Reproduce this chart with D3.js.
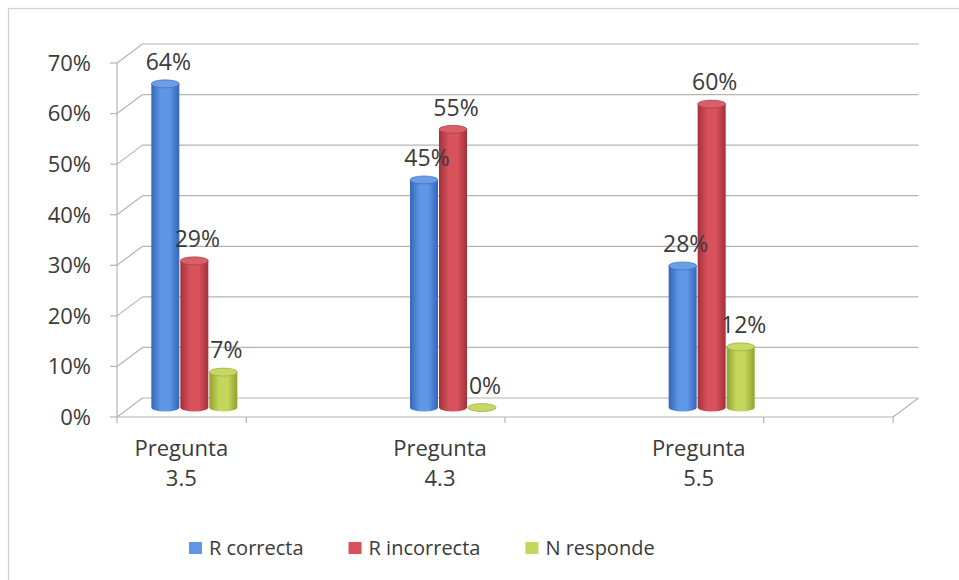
<!DOCTYPE html>
<html>
<head>
<meta charset="utf-8">
<script src="https://cdn.jsdelivr.net/npm/d3@7"></script>
<style>
  html, body { margin: 0; padding: 0; background: #fff; }
  svg { display: block; font-family: "Open Sans", "DejaVu Sans", sans-serif; }
</style>
</head>
<body>
<svg id="chart" width="959" height="580"></svg>
<script>
// Survey results per question
const categories = ["Pregunta 3.5", "Pregunta 4.3", "Pregunta 5.5"];
const seriesNames = ["R correcta", "R incorrecta", "N responde"];
const rCorrecta   = [0.64, 0.45, 0.28];
const rIncorrecta = [0.29, 0.55, 0.60];
const nResponde   = [0.07, 0.00, 0.12];
const yTicks = [0, 0.1, 0.2, 0.3, 0.4, 0.5, 0.6, 0.7];

const seriesValues = [rCorrecta, rIncorrecta, nResponde];
const palette = [
  { edge: "#3565b8", mid: "#5f97e6", top: "#6a9ee6" },
  { edge: "#a3303a", mid: "#d8525c", top: "#d9606a" },
  { edge: "#8fa22c", mid: "#c5d65c", top: "#c8d868" }
];

const svg = d3.select("#chart");
const defs = svg.append("defs");

// 3D box geometry: front plane, back plane offset by depth
const left = 117, right = 893;
const depth = { dx: 25.5, dy: -19 };
const yFront = d3.scaleLinear().domain([0, 0.7]).range([417, 63]);
const yBack = v => yFront(v) + depth.dy;
const yMid = v => yFront(v) + depth.dy / 2;

const x0 = d3.scaleBand().domain(categories).range([left, right]);
const x1 = d3.scaleBand().domain(seriesNames).range([0, 87]);
const clusterOffset = -95;

const grid = "#b4b4b4";
const textColor = "#3a3a3a";

// outer chart border (left and top edges)
svg.append("rect")
  .attr("x", 8.5).attr("y", 8.5).attr("width", 1000).attr("height", 1000)
  .attr("fill", "none").attr("stroke", "#d0d0d0").attr("stroke-width", 1.2);

// back wall gridlines and side diagonals
const g = svg.append("g");
yTicks.forEach(v => {
  g.append("line")
    .attr("x1", left + depth.dx).attr("x2", right + depth.dx)
    .attr("y1", yBack(v)).attr("y2", yBack(v))
    .attr("stroke", grid).attr("stroke-width", 1.2);
  g.append("line")
    .attr("x1", left).attr("x2", left + depth.dx)
    .attr("y1", yFront(v)).attr("y2", yBack(v))
    .attr("stroke", grid).attr("stroke-width", 1.2);
  // tick on front value axis
  g.append("line")
    .attr("x1", left - 7).attr("x2", left)
    .attr("y1", yFront(v)).attr("y2", yFront(v))
    .attr("stroke", grid).attr("stroke-width", 1.2);
});

// front value axis
g.append("line")
  .attr("x1", left).attr("x2", left)
  .attr("y1", yFront(0.7)).attr("y2", yFront(0))
  .attr("stroke", grid).attr("stroke-width", 1.2);

// floor: front edge and right diagonal
g.append("line")
  .attr("x1", left).attr("x2", right)
  .attr("y1", yFront(0)).attr("y2", yFront(0))
  .attr("stroke", grid).attr("stroke-width", 1.2);
g.append("line")
  .attr("x1", right).attr("x2", right + depth.dx)
  .attr("y1", yFront(0)).attr("y2", yBack(0))
  .attr("stroke", grid).attr("stroke-width", 1.2);

// category ticks
const tickXs = [left, right].concat(categories.map(c => x0(c) + x0.bandwidth() / 2));
tickXs.forEach(tx => {
  g.append("line")
    .attr("x1", tx).attr("x2", tx)
    .attr("y1", yFront(0)).attr("y2", yFront(0) + 6)
    .attr("stroke", grid).attr("stroke-width", 1.2);
});

// y-axis labels
svg.append("g").selectAll("text").data(yTicks).join("text")
  .attr("x", 91).attr("y", d => yFront(d))
  .attr("dy", "0.36em")
  .attr("text-anchor", "end")
  .attr("font-size", 22)
  .attr("fill", textColor)
  .text(d => d3.format(".0%")(d));

// category labels (two lines)
const catG = svg.append("g");
categories.forEach(c => {
  const cx = x0(c) + x0.bandwidth() / 2 - 65;
  const parts = c.split(" ");
  catG.append("text")
    .attr("x", cx).attr("y", 456)
    .attr("text-anchor", "middle")
    .attr("font-size", 22)
    .attr("fill", textColor)
    .text(parts[0]);
  catG.append("text")
    .attr("x", cx).attr("y", 486)
    .attr("text-anchor", "middle")
    .attr("font-size", 22)
    .attr("fill", textColor)
    .text(parts[1]);
});

// cylinder gradients
palette.forEach((p, i) => {
  const grad = defs.append("linearGradient")
    .attr("id", "cyl" + i).attr("x1", "0%").attr("x2", "100%").attr("y1", "0%").attr("y2", "0%");
  grad.append("stop").attr("offset", "0%").attr("stop-color", p.edge);
  grad.append("stop").attr("offset", "35%").attr("stop-color", p.mid);
  grad.append("stop").attr("offset", "65%").attr("stop-color", p.mid);
  grad.append("stop").attr("offset", "100%").attr("stop-color", p.edge);
});

// bars as cylinders
const barsG = svg.append("g");
const ry = 4;
const bw = x1.bandwidth() - 1;
const base = yMid(0);
categories.forEach((c, ci) => {
  seriesNames.forEach((s, si) => {
    const v = seriesValues[si][ci];
    const bx = x0(c) + x0.bandwidth() / 2 + clusterOffset + x1(s);
    const top = yMid(v);
    const cx = bx + bw / 2;
    const p = palette[si];
    const body = `M${bx},${top} L${bx},${base} A${bw / 2},${ry} 0 0 0 ${bx + bw},${base} L${bx + bw},${top} Z`;
    barsG.append("path").attr("d", body).attr("fill", `url(#cyl${si})`);
    barsG.append("ellipse")
      .attr("cx", cx).attr("cy", top)
      .attr("rx", bw / 2).attr("ry", ry)
      .attr("fill", p.top)
      .attr("stroke", p.edge).attr("stroke-width", 0.6);
  });
});

// value labels
const lblG = svg.append("g");
categories.forEach((c, ci) => {
  seriesNames.forEach((s, si) => {
    const v = seriesValues[si][ci];
    const cx = x0(c) + x0.bandwidth() / 2 + clusterOffset + x1(s) + bw / 2 + 3;
    lblG.append("text")
      .attr("x", cx).attr("y", yMid(v) - 22)
      .attr("dy", "0.36em")
      .attr("text-anchor", "middle")
      .attr("font-size", 23)
      .attr("fill", textColor)
      .text(d3.format(".0%")(v));
  });
});

// legend
const legend = svg.append("g").attr("transform", "translate(189,548)");
let lx = 0;
seriesNames.forEach((s, i) => {
  const item = legend.append("g").attr("transform", `translate(${lx},0)`);
  item.append("rect").attr("x", 0).attr("y", -6).attr("width", 13).attr("height", 12)
    .attr("fill", palette[i].mid);
  const t = item.append("text").attr("x", 20).attr("y", 0).attr("dy", "0.36em")
    .attr("font-size", 20).attr("fill", textColor).text(s);
  lx += 20 + t.node().getComputedTextLength() + 45;
});
</script>
</body>
</html>
